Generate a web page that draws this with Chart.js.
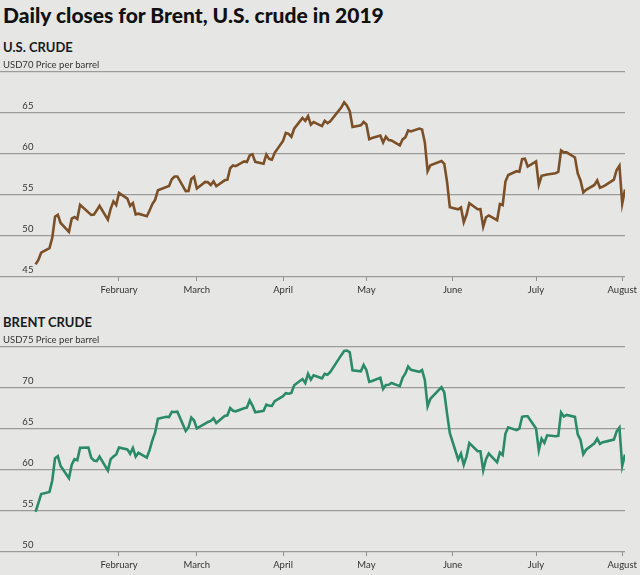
<!DOCTYPE html>
<html>
<head>
<meta charset="utf-8">
<script src="https://cdn.jsdelivr.net/npm/chart.js@4.4.1/dist/chart.umd.min.js"></script>
<style>
  html, body { margin:0; padding:0; background:#e6e7e4; width:640px; height:575px; overflow:hidden; }
  .txt { position:absolute; left:3px; white-space:nowrap; color:#111; font-family:Lato, "Open Sans", sans-serif; }
  #title { top:4px; font-size:21px; line-height:21px; font-weight:900; letter-spacing:0px; }
  #usHead { top:41px; font-size:13px; line-height:13px; font-weight:700; color:#1a1a1a; }
  #brHead { top:316px; font-size:13px; line-height:13px; font-weight:700; color:#1a1a1a; }
  canvas { position:absolute; left:0; }
  #usChart { top:58px; }
  #brChart { top:333px; }
</style>
</head>
<body>
<div id="title" class="txt">Daily closes for Brent, U.S. crude in 2019</div>
<div id="usHead" class="txt">U.S. CRUDE</div>
<div id="brHead" class="txt">BRENT CRUDE</div>
<canvas id="usChart" width="640" height="242"></canvas>
<canvas id="brChart" width="640" height="242"></canvas>
<script>
// ---------- data ----------
const monthTickDates = ["02-01","03-01","04-01","05-01","06-01","07-01","08-01"];
const monthLabels = ["February","March","April","May","June","July","August"];

const usTicks = [45, 50, 55, 60, 65, 70];
const brentTicks = [50, 55, 60, 65, 70, 75];
const unitLabel = "Price per barrel";

const usDates = ["01-02","01-03","01-04","01-07","01-08","01-09","01-10","01-11","01-14","01-15","01-16","01-17","01-18","01-22","01-23","01-24","01-25","01-28","01-29","01-30","01-31",
"02-01","02-04","02-05","02-06","02-07","02-08","02-11","02-12","02-13","02-14","02-15","02-19","02-20","02-21","02-22","02-25","02-26","02-27","02-28",
"03-01","03-04","03-05","03-06","03-07","03-08","03-11","03-12","03-13","03-14","03-15","03-18","03-19","03-20","03-21","03-22","03-25","03-26","03-27","03-28","03-29",
"04-01","04-02","04-03","04-04","04-05","04-08","04-09","04-10","04-11","04-12","04-15","04-16","04-17","04-18","04-22","04-23","04-24","04-25","04-26","04-29","04-30",
"05-01","05-02","05-03","05-06","05-07","05-08","05-09","05-10","05-13","05-14","05-15","05-16","05-17","05-20","05-21","05-22","05-23","05-24","05-28","05-29","05-30","05-31",
"06-03","06-04","06-05","06-06","06-07","06-10","06-11","06-12","06-13","06-14","06-17","06-18","06-19","06-20","06-21","06-24","06-25","06-26","06-27","06-28",
"07-01","07-02","07-03","07-05","07-08","07-09","07-10","07-11","07-12","07-15","07-16","07-17","07-18","07-19","07-22","07-23","07-24","07-25","07-26","07-29","07-30","07-31",
"08-01","08-02"];
const usClose = [46.54,47.09,47.96,48.52,49.78,52.36,52.59,51.59,50.51,52.11,52.31,52.07,53.80,52.57,52.62,53.13,53.69,51.99,53.31,54.23,53.79,
55.26,54.56,53.66,54.01,52.64,52.72,52.41,53.10,53.90,54.41,55.59,56.09,56.92,57.26,57.26,55.48,55.50,56.94,57.22,
55.80,56.59,56.56,56.22,56.66,56.07,56.79,56.87,58.26,58.61,58.52,59.09,59.03,59.83,59.98,59.04,58.82,59.94,59.41,59.30,60.14,
61.59,62.58,62.46,62.10,63.08,64.40,64.05,64.61,63.58,63.89,63.40,64.05,63.76,64.00,65.70,66.30,65.89,65.21,63.30,63.50,63.91,
63.60,61.81,61.94,62.25,61.40,62.12,61.70,61.66,61.04,61.78,62.02,62.87,62.76,63.10,62.99,61.42,57.91,58.63,59.14,58.81,56.59,53.50,
53.25,53.48,51.68,52.59,53.99,53.26,53.27,51.14,52.28,52.51,51.93,53.90,53.76,56.65,57.43,57.90,57.83,59.38,59.43,58.47,
59.09,56.25,57.34,57.51,57.66,57.83,60.43,60.20,60.21,59.58,57.62,56.78,55.30,55.63,56.22,56.77,55.88,56.02,56.20,56.87,58.05,58.58,
53.95,55.66];

const brentDates = ["01-02","01-03","01-04","01-07","01-08","01-09","01-10","01-11","01-14","01-15","01-16","01-17","01-18","01-21","01-22","01-23","01-24","01-25","01-28","01-29","01-30","01-31",
"02-01","02-04","02-05","02-06","02-07","02-08","02-11","02-12","02-13","02-14","02-15","02-18","02-19","02-20","02-21","02-22","02-25","02-26","02-27","02-28",
"03-01","03-04","03-05","03-06","03-07","03-08","03-11","03-12","03-13","03-14","03-15","03-18","03-19","03-20","03-21","03-22","03-25","03-26","03-27","03-28","03-29",
"04-01","04-02","04-03","04-04","04-05","04-08","04-09","04-10","04-11","04-12","04-15","04-16","04-17","04-18","04-22","04-23","04-24","04-25","04-26","04-29","04-30",
"05-01","05-02","05-03","05-06","05-07","05-08","05-09","05-10","05-13","05-14","05-15","05-16","05-17","05-20","05-21","05-22","05-23","05-24","05-28","05-29","05-30","05-31",
"06-03","06-04","06-05","06-06","06-07","06-10","06-11","06-12","06-13","06-14","06-17","06-18","06-19","06-20","06-21","06-24","06-25","06-26","06-27","06-28",
"07-01","07-02","07-03","07-04","07-05","07-08","07-09","07-10","07-11","07-12","07-15","07-16","07-17","07-18","07-19","07-22","07-23","07-24","07-25","07-26","07-29","07-30","07-31",
"08-01","08-02"];
const brentClose = [54.91,55.95,57.06,57.33,58.72,61.44,61.68,60.48,59.00,60.64,61.32,61.18,62.70,62.74,61.50,61.14,61.09,61.64,59.93,61.32,61.65,61.89,
62.75,62.51,61.98,62.69,61.63,62.10,61.51,62.42,63.61,64.57,66.25,66.50,66.45,67.08,67.07,67.12,64.76,65.21,66.39,66.03,
65.07,65.67,65.86,65.99,66.30,65.74,66.58,66.67,67.55,67.23,67.16,67.54,67.61,68.50,67.86,67.03,67.21,67.97,67.83,67.82,68.39,
69.01,69.37,69.31,69.40,70.34,71.10,70.61,71.73,71.02,71.55,71.18,71.72,71.62,71.97,74.04,74.51,74.57,74.35,72.15,72.04,72.80,
72.18,70.75,70.85,71.24,69.88,70.37,70.39,70.62,70.23,71.24,71.77,72.62,72.21,71.97,72.18,70.99,67.76,68.69,70.11,69.45,66.87,64.49,
61.28,62.00,60.63,61.67,63.29,62.29,62.29,59.97,61.31,62.01,60.94,62.14,61.82,64.45,65.20,64.86,65.05,66.49,66.55,66.55,
65.06,62.40,63.82,63.30,64.23,64.11,64.16,67.01,66.52,66.72,66.48,64.35,63.66,61.93,62.47,63.26,63.83,63.18,63.39,63.46,63.71,64.72,65.17,
60.50,61.89];

// ---------- helpers ----------
function dayOfYear(md) {
  const [m, d] = md.split("-").map(Number);
  return (Date.UTC(2019, m - 1, d) - Date.UTC(2019, 0, 1)) / 86400000;
}
const monthTicks = monthTickDates.map(dayOfYear);
const FONT = { family: "Lato, 'Open Sans', sans-serif", size: 9.5 };

const unitPlugin = {
  id: 'unitText',
  afterDraw(chart) {
    const y = chart.scales.y;
    const top = y.ticks[y.ticks.length - 1].value;
    const ctx = chart.ctx;
    ctx.save();
    ctx.font = "9.5px Lato, 'Open Sans', sans-serif";
    ctx.fillStyle = '#333';
    ctx.textBaseline = 'middle';
    ctx.textAlign = 'left';
    const w = ctx.measureText('USD' + top + ' ').width;
    ctx.fillText(unitLabel, 3 + w, y.getPixelForValue(top) - 7);
    ctx.restore();
  }
};

function makeChart(id, dates, values, color, yTicks) {
  const yMin = yTicks[0], yMax = yTicks[yTicks.length - 1];
  const points = dates.map((d, i) => ({ x: dayOfYear(d), y: values[i] }));
  return new Chart(document.getElementById(id), {
    type: 'line',
    data: { datasets: [{ data: points, borderColor: color, borderWidth: 2.6, pointRadius: 0, tension: 0, fill: false }] },
    options: {
      responsive: false,
      animation: false,
      events: [],
      layout: { padding: { top: 14, left: 0, right: 15, bottom: 0 } },
      plugins: { legend: { display: false }, tooltip: { enabled: false } },
      scales: {
        x: {
          type: 'linear', min: -11.8, max: 213.0,
          afterBuildTicks: s => { s.ticks = monthTicks.map(v => ({ value: v })); },
          afterFit: s => { s.height = 23; s.paddingLeft = 0; s.paddingRight = 0; },
          grid: { drawOnChartArea: false, drawTicks: true, tickLength: 4, color: '#8f8f8f', lineWidth: 1 },
          border: { display: false },
          ticks: {
            autoSkip: false, maxRotation: 0, minRotation: 0, padding: 3, color: '#333', font: FONT,
            callback: v => monthLabels[monthTicks.indexOf(v)]
          }
        },
        y: {
          min: yMin, max: yMax,
          afterBuildTicks: s => { s.ticks = yTicks.map(v => ({ value: v })); },
          afterFit: s => { s.width = 0; s.paddingTop = 0; s.paddingBottom = 0; },
          grid: { drawTicks: false, color: '#9b9b9b', lineWidth: 1.3 },
          border: { display: false },
          ticks: {
            mirror: true, crossAlign: 'far', padding: 3, labelOffset: -7, color: '#333', font: FONT,
            callback: v => (v === yMax ? 'USD' + v : String(v))
          }
        }
      }
    },
    plugins: [unitPlugin]
  });
}

makeChart('usChart', usDates, usClose, '#7b5028', usTicks);
makeChart('brChart', brentDates, brentClose, '#2b8a68', brentTicks);
</script>
</body>
</html>
